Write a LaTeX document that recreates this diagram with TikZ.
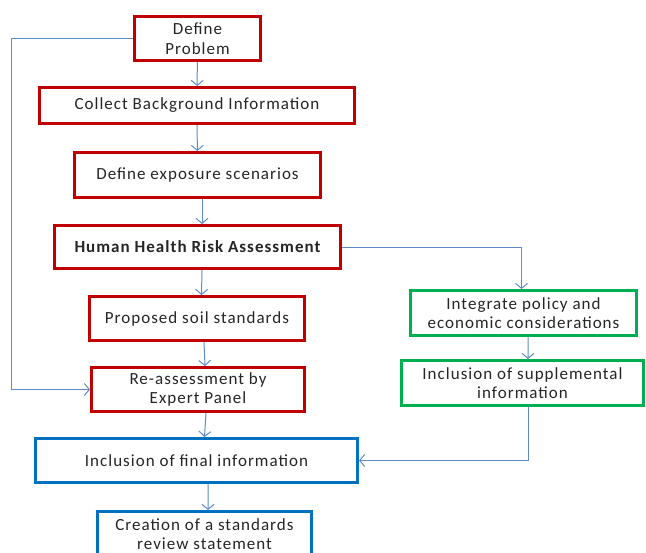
\documentclass[tikz,border=0pt]{standalone}
\usepackage{fontspec}
\setmainfont{Carlito}[LetterSpace=6]
\usetikzlibrary{arrows.meta}

\definecolor{boxred}{RGB}{192,0,0}
\definecolor{boxgreen}{RGB}{0,176,80}
\definecolor{boxblue}{RGB}{0,112,192}
\definecolor{linkblue}{RGB}{95,140,200}

\begin{document}
\begin{tikzpicture}
%Flow of the soil standards procedure
	[
	 	 %Styles
       x=1bp, y=-1bp,
       >={Straight Barb[length=5bp,width=12bp]},
       box_node/.style={rectangle,draw,line width=3bp,fill=white,align=center,inner sep=2bp,
          font=\fontsize{17bp}{19.5bp}\selectfont,text=black!85},
       red_node/.style={box_node,draw=boxred},
       green_node/.style={box_node,draw=boxgreen},
       blue_node/.style={box_node,draw=boxblue},
       link/.style={draw=linkblue,line width=1bp}
    ]
    \clip (0,0) rectangle (646,553);

    %Node placement
    %Main column
    \node (define) [red_node,minimum width=126bp,minimum height=44bp] at (197.5,38.5) {Define\\Problem};
    \node (collect) [red_node,minimum width=315bp,minimum height=36bp] at (197,105.5) {Collect Background Information};
    \node (exposure) [red_node,minimum width=246bp,minimum height=45bp] at (197.5,175) {Define exposure scenarios};
    \node (hhra) [red_node,minimum width=286bp,minimum height=43bp,font=\fontsize{17bp}{19.5bp}\selectfont\bfseries] at (197.5,247) {Human Health Risk Assessment};
    \node (proposed) [red_node,minimum width=215bp,minimum height=44bp] at (197,318.5) {Proposed soil standards};
    \node (reassess) [red_node,minimum width=213bp,minimum height=44bp] at (198,389.5) {Re-assessment by\\Expert Panel};
    \node (final) [blue_node,minimum width=322bp,minimum height=44bp] at (196.5,460.5) {Inclusion of final information};
    \node (creation) [blue_node,minimum width=214bp,minimum height=45bp] at (204.5,534) {Creation of a standards\\review statement};
    %Side column
    \node (integrate) [green_node,minimum width=226bp,minimum height=45bp] at (523.5,313) {Integrate policy and\\economic considerations};
    \node (supplement) [green_node,minimum width=242bp,minimum height=45bp] at (522.5,383) {Inclusion of supplemental\\information};

    %Edges
    \path[link]
       (define) edge [->] (collect)
       (collect) edge [->] (exposure)
       ([xshift=4.5bp]exposure.south) edge [->] ([xshift=4.5bp]hhra.north)
       ([xshift=4.5bp]hhra.south) edge [->] ([xshift=4.5bp]proposed.north)
       ([xshift=7bp]proposed.south) edge [->] ([xshift=7bp]reassess.north)
       ([xshift=8bp]reassess.south) edge [->] ([xshift=8bp]final.north)
       ([xshift=11.5bp]final.south) edge [->] ([xshift=3.5bp]creation.north)
       ([xshift=4.5bp]integrate.south) edge [->] ([xshift=5.5bp]supplement.north);
    \draw[link,->] (define.west) -- ++(-121,0) |- (reassess.west);
    \draw[link,->] (hhra.east) -| ([xshift=-2bp]integrate.north);
    \draw[link,->] ([xshift=5.5bp]supplement.south) |- (final.east);
\end{tikzpicture}
\end{document}
